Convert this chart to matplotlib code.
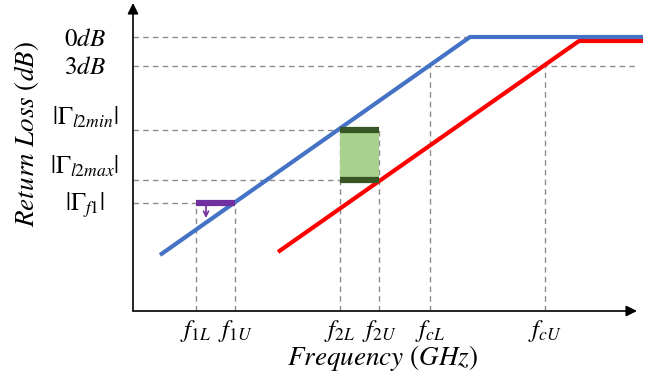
import matplotlib
matplotlib.use("Agg")
import matplotlib.pyplot as plt
from matplotlib.patches import Rectangle

plt.rcParams['mathtext.fontset'] = 'stix'
plt.rcParams['font.family'] = ['STIXGeneral', 'DejaVu Serif']

# ---- data (schematic units) ----
freq_names = ["f1L", "f1U", "f2L", "f2U", "fcL", "fcU"]
freq_vals = [6.3, 10.2, 20.7, 24.6, 29.7, 41.2]
freq_labels = [r"$f_{1L}$", r"$f_{1U}$", r"$f_{2L}$", r"$f_{2U}$", r"$f_{cL}$", r"$f_{cU}$"]

level_vals = [27.4, 24.5, 18.1, 13.1, 10.8]
level_labels = [r"$0dB$", r"$3dB$", r"$|\Gamma_{l2min}|$", r"$|\Gamma_{l2max}|$", r"$|\Gamma_{f1}|$"]

blue_x = [2.7, 33.7, 51.0]
blue_y = [5.6, 27.4, 27.4]
red_x = [14.5, 44.6, 51.0]
red_y = [5.9, 27.0, 27.0]

# vertical guide tops (level each freq guide reaches)
freq_guide_top = [10.8, 10.8, 18.1, 18.1, 24.5, 24.5]
# horizontal guide right ends
level_guide_end = [33.7, 50.4, 20.7, 20.7, 6.3]
# vertical nudge of each level label (points, + = up)
label_nudge = [-2, -1.5, 8.5, 9, -1.5]

blue_color = "#4472C4"
red_color = "#FF0000"

fig = plt.figure(figsize=(6.57, 3.84), dpi=100)
W, H = 657, 384
ax = fig.add_axes([133 / W, 73 / H, (637 - 133) / W, (311 - 3) / H])
ax.set_xlim(0, 50.4)
ax.set_ylim(0, 30.8)
for s in ax.spines.values():
    s.set_visible(False)
ax.set_xticks([])
ax.set_yticks([])

# guides
dash = dict(color="#8C8C8C", lw=1.0, linestyle=(0, (4, 3)), zorder=1)
for yv, xe in zip(level_vals, level_guide_end):
    ax.plot([0, xe], [yv, yv], **dash)
for xv, yt in zip(freq_vals, freq_guide_top):
    ax.plot([xv, xv], [0, yt], **dash)

# axes arrows
ax.annotate("", xy=(1.0, 0), xytext=(0, 0), xycoords="axes fraction",
            arrowprops=dict(arrowstyle="-|>", color="black", lw=1.2,
                            mutation_scale=16, shrinkA=0, shrinkB=0))
ax.annotate("", xy=(0, 1.0), xytext=(0, 0), xycoords="axes fraction",
            arrowprops=dict(arrowstyle="-|>", color="black", lw=1.2,
                            mutation_scale=16, shrinkA=0, shrinkB=0))

# main lines
ax.plot(blue_x, blue_y, color=blue_color, lw=3.0, solid_capstyle="butt",
        clip_on=False, zorder=4)
ax.plot(red_x, red_y, color=red_color, lw=3.0, solid_capstyle="butt",
        clip_on=False, zorder=3)

# green box between f2L/f2U and Γl2max/Γl2min
gx0, gx1 = freq_vals[2], freq_vals[3]
gy0, gy1 = level_vals[3], level_vals[2]
ax.add_patch(Rectangle((gx0, gy0), gx1 - gx0, gy1 - gy0, facecolor="#A9D18E",
                       edgecolor="none", zorder=2))
ax.plot([gx0, gx1], [gy1, gy1], color="#375623", lw=4.5, solid_capstyle="butt", zorder=5)
ax.plot([gx0, gx1], [gy0, gy0], color="#375623", lw=4.5, solid_capstyle="butt", zorder=5)

# purple bar at Γf1 between f1L and f1U
px0, px1 = freq_vals[0], freq_vals[1]
py = level_vals[4]
ax.plot([px0, px1], [py, py], color="#7030A0", lw=4.5, solid_capstyle="butt", zorder=5)
ax.annotate("", xy=(px0 + 1.0, py - 1.5), xytext=(px0 + 1.0, py - 0.3),
            arrowprops=dict(arrowstyle="->", color="#7030A0", lw=1.2,
                            mutation_scale=9, shrinkA=0, shrinkB=0), zorder=5)

# tick labels
for yv, lab, nd in zip(level_vals, level_labels, label_nudge):
    ax.annotate(lab, xy=(-48 / 504, yv), xycoords=("axes fraction", "data"),
                xytext=(0, nd), textcoords="offset points",
                ha="center", va="center", fontsize=18, annotation_clip=False)
for xv, lab in zip(freq_vals, freq_labels):
    ax.text(xv, -2.0, lab, ha="center", va="center", fontsize=18, clip_on=False)

fig.text(383 / W, 1 - 358 / H, r"$Frequency\ (GHz)$", ha="center", va="center", fontsize=19.5)
fig.text(27 / W, 1 - 134 / H, r"$Return\ Loss\ (dB)$", ha="center", va="center",
         rotation=90, fontsize=19.5)

fig.savefig("out.png", dpi=100)
